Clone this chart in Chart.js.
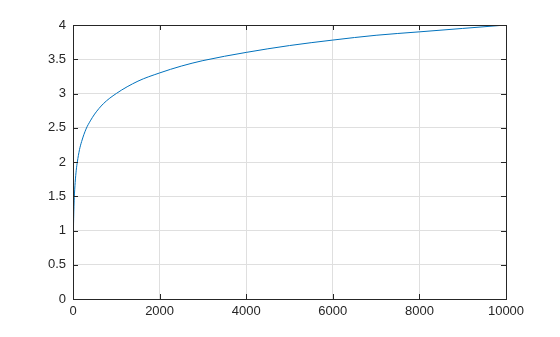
<!DOCTYPE html>
<html>
<head>
<meta charset="utf-8">
<script src="https://cdn.jsdelivr.net/npm/chart.js@4/dist/chart.umd.min.js"></script>
<style>
  html, body { margin: 0; padding: 0; background: #fff; }
  #wrap { width: 560px; height: 337px; }
</style>
</head>
<body>
<div id="wrap"><canvas id="curve"></canvas></div>
<script>
// values
const xValues = [1, 2, 3, 5, 10, 20, 30, 50, 75, 100, 150, 200, 300, 400, 500, 700, 1000, 1500, 2000, 2500, 3000, 4000, 5000, 6000, 7000, 8000, 9000, 10000];
const yValues = [0, 0.30, 0.48, 0.70, 1.00, 1.30, 1.48, 1.70, 1.88, 2.00, 2.18, 2.30, 2.48, 2.60, 2.70, 2.85, 3.00, 3.18, 3.30, 3.40, 3.48, 3.60, 3.70, 3.78, 3.85, 3.90, 3.95, 4.00];
const xTicks = [0, 2000, 4000, 6000, 8000, 10000];
const yTicks = [0, 0.5, 1, 1.5, 2, 2.5, 3, 3.5, 4];

const axisColor = "#262626";
const gridColor = "#dfdfdf";

// box around the axes plus inward tick marks, like matlab
const boxPlugin = {
  id: "box",
  afterDraw(chart) {
    const { ctx, chartArea: a, scales } = chart;
    ctx.save();
    ctx.strokeStyle = axisColor;
    ctx.lineWidth = 1;
    ctx.beginPath();
    xTicks.forEach((v) => {
      const px = Math.round(scales.x.getPixelForValue(v)) + 0.5;
      ctx.moveTo(px, a.bottom); ctx.lineTo(px, a.bottom - 5);
      ctx.moveTo(px, a.top); ctx.lineTo(px, a.top + 5);
    });
    yTicks.forEach((v) => {
      const py = Math.round(scales.y.getPixelForValue(v)) + 0.5;
      ctx.moveTo(a.left, py); ctx.lineTo(a.left + 5, py);
      ctx.moveTo(a.right, py); ctx.lineTo(a.right - 5, py);
    });
    ctx.stroke();
    ctx.strokeRect(Math.round(a.left) + 0.5, Math.round(a.top) + 0.5,
      Math.round(a.right - a.left), Math.round(a.bottom - a.top));
    ctx.restore();
  },
};

const canvas = document.getElementById("curve");
const myChart = new Chart(canvas.getContext("2d"), {
  type: "scatter",
  data: {
    datasets: [
      {
        data: xValues.map((x, i) => ({ x: x, y: yValues[i] })),
        showLine: true,
        borderColor: "#0072BD",
        borderWidth: 1,
        pointRadius: 0,
        cubicInterpolationMode: "monotone",
      },
    ],
  },
  options: {
    responsive: true,
    maintainAspectRatio: false,
    animation: false,
    layout: { padding: { left: 0, top: 25, right: 54, bottom: 0 } },
    plugins: { legend: { display: false }, tooltip: { enabled: false } },
    scales: {
      x: {
        type: "linear",
        min: 0,
        max: 10000,
        afterBuildTicks: (s) => { s.ticks = xTicks.map((v) => ({ value: v })); },
        afterFit: (s) => { s.height = 38; },
        grid: { color: gridColor, drawTicks: false },
        border: { display: false },
        ticks: {
          color: axisColor,
          padding: 5,
          maxRotation: 0,
          font: { family: "Liberation Sans, Arial, sans-serif", size: 13 },
          callback: (v) => String(v),
        },
      },
      y: {
        type: "linear",
        min: 0,
        max: 4,
        afterBuildTicks: (s) => { s.ticks = yTicks.map((v) => ({ value: v })); },
        afterFit: (s) => { s.width = 73; },
        grid: { color: gridColor, drawTicks: false },
        border: { display: false },
        ticks: {
          color: axisColor,
          padding: 7,
          font: { family: "Liberation Sans, Arial, sans-serif", size: 13 },
          callback: (v) => String(v),
        },
      },
    },
  },
  plugins: [boxPlugin],
});
</script>
</body>
</html>
